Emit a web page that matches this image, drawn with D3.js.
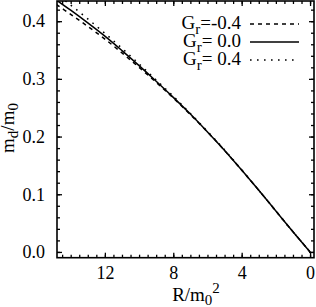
<!DOCTYPE html>
<html>
<head>
<meta charset="utf-8">
<script src="https://cdn.jsdelivr.net/npm/d3@7"></script>
<style>
  body { margin: 0; background: #fff; }
  svg { display: block; }
  svg text { font-family: "Times New Roman", "Liberation Serif", Times, serif !important; }
</style>
</head>
<body>
<svg width="316" height="307"></svg>
<script>
// R/m0^2 values (x)
const rValues = [0, 1, 2, 3, 4, 5, 6, 7, 8, 9, 10, 11, 12, 13, 14, 15];
// m_d/m0 for each G_r
const mNeg04 = [0, 0.035, 0.071, 0.107, 0.142, 0.176, 0.208, 0.238, 0.267, 0.294, 0.320, 0.345, 0.369, 0.391, 0.412, 0.432];
const mZero  = [0, 0.035, 0.071, 0.107, 0.142, 0.176, 0.208, 0.239, 0.268, 0.296, 0.323, 0.349, 0.374, 0.397, 0.419, 0.440];
const mPos04 = [0, 0.035, 0.071, 0.107, 0.142, 0.177, 0.209, 0.240, 0.270, 0.298, 0.326, 0.353, 0.379, 0.404, 0.428, 0.451];
const legendLabels = ["-0.4", "\u00a00.0", "\u00a00.4"];
const xTicks = [12, 8, 4, 0];
const yTicks = [0.0, 0.1, 0.2, 0.3, 0.4];

const svg = d3.select("svg");
const mL = 57, mR = 314, mT = 1, mB = 257.7;

const x = d3.scaleLinear().domain([14.8, -0.23]).range([mL, mR]);
const y = d3.scaleLinear().domain([-0.01, 0.435]).range([mB, mT]);

// clip
svg.append("clipPath").attr("id", "clip")
  .append("rect").attr("x", mL).attr("y", mT)
  .attr("width", mR - mL).attr("height", mB - mT);

const xMinor = d3.range(0, 14.75, 0.5);
const yMinor = d3.range(0, 0.43, 0.02);

function tickGroup(axis, transform) {
  const g = svg.append("g").attr("transform", transform).call(axis);
  g.select(".domain").remove();
  g.selectAll(".tick line").attr("stroke", "#000").attr("stroke-width", 1.3);
  g.selectAll(".tick text").attr("fill", "#000").attr("font-size", 18);
  return g;
}

// minor ticks
tickGroup(d3.axisBottom(x).tickValues(xMinor).tickSize(-3).tickFormat(""), `translate(0,${mB})`);
tickGroup(d3.axisTop(x).tickValues(xMinor).tickSize(-3).tickFormat(""), `translate(0,${mT})`);
tickGroup(d3.axisLeft(y).tickValues(yMinor).tickSize(-3).tickFormat(""), `translate(${mL},0)`);
tickGroup(d3.axisRight(y).tickValues(yMinor).tickSize(-3).tickFormat(""), `translate(${mR},0)`);

// major ticks
tickGroup(d3.axisBottom(x).tickValues(xTicks).tickSize(-5).tickPadding(9).tickFormat(d3.format("d")), `translate(0,${mB})`);
tickGroup(d3.axisTop(x).tickValues(xTicks).tickSize(-5).tickFormat(""), `translate(0,${mT})`);
tickGroup(d3.axisLeft(y).tickValues(yTicks).tickSize(-5).tickPadding(12).tickFormat(d3.format(".1f")), `translate(${mL},0)`);
tickGroup(d3.axisRight(y).tickValues(yTicks).tickSize(-5).tickFormat(""), `translate(${mR},0)`);

// frame
svg.append("rect")
  .attr("x", mL).attr("y", mT)
  .attr("width", mR - mL).attr("height", mB - mT)
  .attr("fill", "none").attr("stroke", "#000").attr("stroke-width", 1.6);

const styles = [
  { data: mNeg04, dash: "4,4" },
  { data: mZero, dash: null },
  { data: mPos04, dash: "1.6,5.4" }
];

const line = d3.line()
  .x(d => x(d[0]))
  .y(d => y(d[1]))
  .curve(d3.curveCatmullRom);

const plot = svg.append("g").attr("clip-path", "url(#clip)");
styles.forEach(s => {
  plot.append("path")
    .datum(rValues.map((r, i) => [r, s.data[i]]))
    .attr("d", line)
    .attr("fill", "none")
    .attr("stroke", "#000")
    .attr("stroke-width", 1.5)
    .attr("stroke-dasharray", s.dash);
});

// legend
const legend = svg.append("g");
styles.forEach((s, i) => {
  const by = 29 + i * 18;
  const t = legend.append("text")
    .attr("x", 241).attr("y", by)
    .attr("text-anchor", "end")
    .attr("font-size", 19);
  t.append("tspan").text("G");
  t.append("tspan").attr("font-size", 15).attr("dy", 5).text("r");
  t.append("tspan").attr("dy", -5).text("=" + legendLabels[i]);
  legend.append("line")
    .attr("x1", 250).attr("x2", 299)
    .attr("y1", by - 5).attr("y2", by - 5)
    .attr("stroke", "#000").attr("stroke-width", 1.5)
    .attr("stroke-dasharray", s.dash);
});

// x title
const xt = svg.append("text")
  .attr("x", 196).attr("y", 301)
  .attr("text-anchor", "middle")
  .attr("font-size", 19);
xt.append("tspan").text("R/m");
xt.append("tspan").attr("font-size", 15).attr("dy", 4).text("0");
xt.append("tspan").attr("font-size", 15).attr("dy", -12).text("2");

// y title
const yt = svg.append("text")
  .attr("transform", "translate(14,128) rotate(-90)")
  .attr("text-anchor", "middle")
  .attr("font-size", 19);
yt.append("tspan").text("m");
yt.append("tspan").attr("font-size", 15).attr("dy", 4).text("d");
yt.append("tspan").attr("dy", -4).text("/m");
yt.append("tspan").attr("font-size", 15).attr("dy", 4).text("0");
</script>
</body>
</html>
